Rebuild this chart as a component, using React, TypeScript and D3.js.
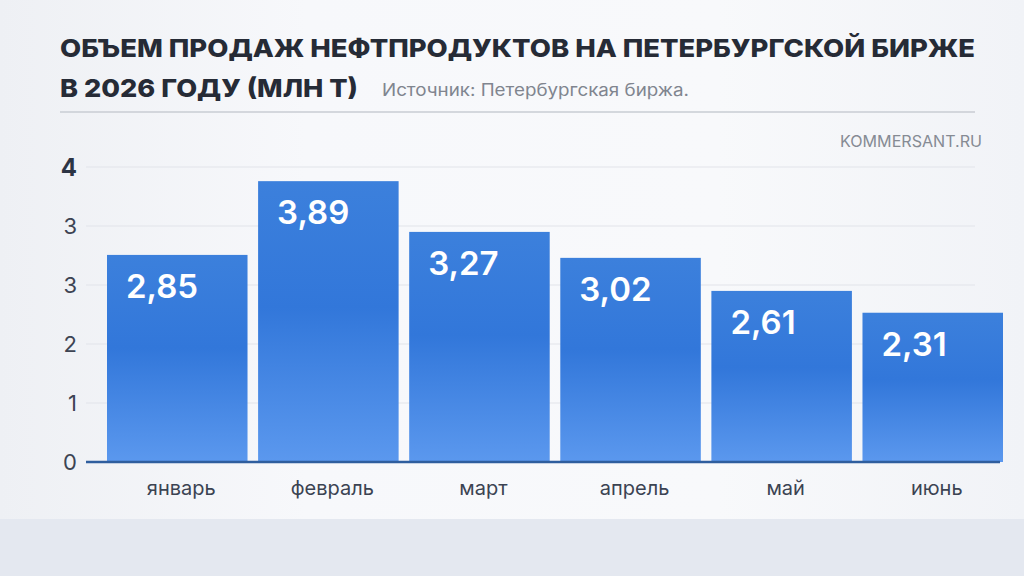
import React from "react";
import * as d3 from "d3";

// данные: месяцы, подписи значений, высоты столбцов по шкале оси
const months = ["январь", "февраль", "март", "апрель", "май", "июнь"];
const valueLabels = ["2,85", "3,89", "3,27", "3,02", "2,61", "2,31"];
const barLevels = [3.51, 4.76, 3.9, 3.46, 2.9, 2.53];
const tickLabels = ["0", "1", "2", "3", "3", "4"];

const title1 = "ОБЪЕМ ПРОДАЖ НЕФТПРОДУКТОВ НА ПЕТЕРБУРГСКОЙ БИРЖЕ";
const title2 = "В 2026 ГОДУ (МЛН Т)";
const source = "Источник: Петербургская биржа.";
const brand = "KOMMERSANT.RU";

const W = 1024;
const H = 576;

const App = () => {
  const x = d3.scaleBand<string>().domain(months).range([107, 1003]).paddingInner(0.07).paddingOuter(0);
  const y = d3.scaleLinear().domain([0, 5]).range([462, 167]);
  const ticks = d3.range(tickLabels.length);

  return (
    <svg
      width={W}
      height={H}
      viewBox={`0 0 ${W} ${H}`}
      style={{ position: "absolute", left: 0, top: 0, fontFamily: "Inter, 'Open Sans', sans-serif" }}
    >
      <defs>
        <linearGradient id="bg" x1="0" y1="0" x2="1" y2="0">
          <stop offset="0" stopColor="#eef0f4" />
          <stop offset="0.3" stopColor="#f7f8fb" />
          <stop offset="0.7" stopColor="#f8f9fb" />
          <stop offset="1" stopColor="#f1f3f7" />
        </linearGradient>
        <linearGradient id="bar" x1="0" y1="0" x2="0" y2="1">
          <stop offset="0" stopColor="#3c80dc" />
          <stop offset="0.45" stopColor="#3277da" />
          <stop offset="1" stopColor="#5b98ee" />
        </linearGradient>
      </defs>

      <rect x={0} y={0} width={W} height={H} fill="url(#bg)" />
      <rect x={0} y={519} width={W} height={H - 519} fill="#e4e8f0" />

      <text x={60} y={57} fontSize={25} fontWeight={800} fill="#262b36" textLength={915} lengthAdjust="spacingAndGlyphs">
        {title1}
      </text>
      <text x={60} y={97} fontSize={25} fontWeight={800} fill="#262b36" textLength={298} lengthAdjust="spacingAndGlyphs">
        {title2}
      </text>
      <text x={382} y={96} fontSize={17} fill="#80858f" textLength={307} lengthAdjust="spacingAndGlyphs">
        {source}
      </text>
      <line x1={60} x2={975} y1={112} y2={112} stroke="#c9ccd3" strokeWidth={1.5} />
      <text x={982} y={147} fontSize={16} fill="#868b94" textAnchor="end" textLength={142} lengthAdjust="spacingAndGlyphs">
        {brand}
      </text>

      {ticks.slice(1).map((t) => (
        <line key={t} x1={86} x2={975} y1={y(t)} y2={y(t)} stroke="#e1e4e9" strokeWidth={1.2} />
      ))}
      {ticks.map((t) => (
        <text
          key={t}
          x={77}
          y={y(t)}
          dy="0.36em"
          textAnchor="end"
          fontSize={t === ticks.length - 1 ? 24 : 22}
          fontWeight={t === ticks.length - 1 ? 700 : 400}
          fill={t === ticks.length - 1 ? "#2c3444" : "#3d4453"}
        >
          {tickLabels[t]}
        </text>
      ))}

      {months.map((m, i) => {
        const x0 = x(m) ?? 0;
        const top = y(barLevels[i]);
        return (
          <g key={m}>
            <rect x={x0} y={top} width={x.bandwidth()} height={y(0) - top} fill="url(#bar)" />
            <text x={x0 + 19} y={top + 43} fontSize={33} fontWeight={600} fill="#ffffff">
              {valueLabels[i]}
            </text>
            <text x={x0 + x.bandwidth() / 2 + 4} y={495} textAnchor="middle" fontSize={20} fill="#3b4352">
              {m}
            </text>
          </g>
        );
      })}

      <line x1={86} x2={1000} y1={y(0)} y2={y(0)} stroke="#2f5e9e" strokeWidth={2.5} />
    </svg>
  );
};

export default App;
